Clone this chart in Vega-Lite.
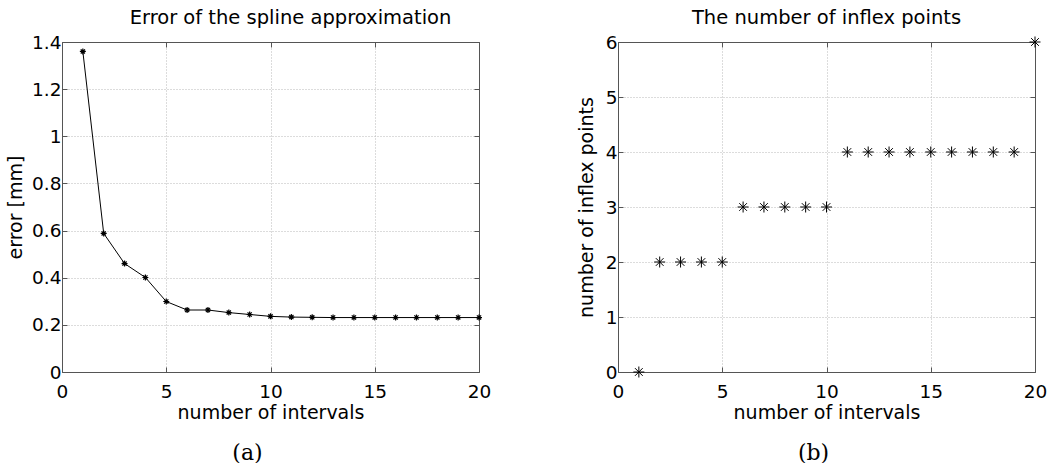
{
  "$schema": "https://vega.github.io/schema/vega-lite/v6.json",
  "background": "white",
  "padding": {"left": 6, "top": 7, "right": 2, "bottom": 0},
  "bounds": "flush",
  "spacing": 139,
  "datasets": {
    "err": [
      {"n": 1, "err": 1.36}, {"n": 2, "err": 0.588}, {"n": 3, "err": 0.46}, {"n": 4, "err": 0.401},
      {"n": 5, "err": 0.299}, {"n": 6, "err": 0.263}, {"n": 7, "err": 0.263}, {"n": 8, "err": 0.252},
      {"n": 9, "err": 0.244}, {"n": 10, "err": 0.236}, {"n": 11, "err": 0.233}, {"n": 12, "err": 0.232},
      {"n": 13, "err": 0.231}, {"n": 14, "err": 0.231}, {"n": 15, "err": 0.231}, {"n": 16, "err": 0.231},
      {"n": 17, "err": 0.231}, {"n": 18, "err": 0.231}, {"n": 19, "err": 0.231}, {"n": 20, "err": 0.231}
    ],
    "infl": [
      {"n": 1, "k": 0}, {"n": 2, "k": 2}, {"n": 3, "k": 2}, {"n": 4, "k": 2}, {"n": 5, "k": 2},
      {"n": 6, "k": 3}, {"n": 7, "k": 3}, {"n": 8, "k": 3}, {"n": 9, "k": 3}, {"n": 10, "k": 3},
      {"n": 11, "k": 4}, {"n": 12, "k": 4}, {"n": 13, "k": 4}, {"n": 14, "k": 4}, {"n": 15, "k": 4},
      {"n": 16, "k": 4}, {"n": 17, "k": 4}, {"n": 18, "k": 4}, {"n": 19, "k": 4}, {"n": 20, "k": 6}
    ]
  },
  "config": {
    "font": "DejaVu Sans",
    "view": {"stroke": null},
    "axis": {
      "labelFont": "DejaVu Sans", "labelFontSize": 18.5, "labelColor": "black",
      "titleFont": "DejaVu Sans", "titleFontSize": 19, "titleFontWeight": "normal", "titleColor": "black",
      "domainColor": "#555", "tickColor": "#555", "domainWidth": 1, "tickWidth": 1,
      "gridColor": "#b8b8b8", "gridDash": [1, 2], "gridOpacity": 1, "gridWidth": 1,
      "labelFlush": false, "labelOverlap": false
    },
    "title": {"font": "DejaVu Sans", "fontSize": 19.5, "fontWeight": "normal", "color": "black", "offset": 5}
  },
  "hconcat": [
    {
      "width": 417, "height": 330,
      "title": {"text": "Error of the spline approximation", "dx": 20},
      "data": {"name": "err"},
      "layer": [
        {
          "mark": {"type": "line", "color": "black", "strokeWidth": 1},
          "encoding": {
            "x": {"field": "n", "type": "quantitative", "scale": {"domain": [0, 20], "nice": false},
                  "axis": {"values": [0, 5, 10, 15, 20], "title": "number of intervals", "grid": true, "ticks": false, "labelPadding": 10, "titlePadding": 3}},
            "y": {"field": "err", "type": "quantitative", "scale": {"domain": [0, 1.4], "nice": false},
                  "axis": {"values": [0, 0.2, 0.4, 0.6, 0.8, 1, 1.2, 1.4], "format": "~g", "title": "error [mm]", "grid": true, "ticks": false, "labelPadding": 1, "titlePadding": 6}}
          }
        },
        {
          "mark": {"type": "point", "shape": "M-1,0L1,0M0,-1L0,1M-0.7,-0.7L0.7,0.7M-0.7,0.7L0.7,-0.7", "filled": false, "stroke": "black", "strokeWidth": 1.2, "size": 36, "opacity": 1},
          "encoding": {
            "x": {"field": "n", "type": "quantitative", "axis": null},
            "y": {"field": "err", "type": "quantitative", "axis": null}
          }
        },
        {
          "mark": {"type": "point", "opacity": 0},
          "encoding": {
            "x": {"field": "n", "type": "quantitative", "axis": {"orient": "top", "values": [0, 5, 10, 15, 20], "labels": false, "tickSize": -5, "title": null, "grid": false}},
            "y": {"field": "err", "type": "quantitative", "axis": {"orient": "right", "values": [0, 0.2, 0.4, 0.6, 0.8, 1, 1.2, 1.4], "labels": false, "tickSize": -5, "title": null, "grid": false}}
          }
        },
        {
          "mark": {"type": "point", "opacity": 0},
          "encoding": {
            "x": {"field": "n", "type": "quantitative", "axis": {"orient": "bottom", "values": [0, 5, 10, 15, 20], "labels": false, "tickSize": -5, "domain": false, "grid": false, "title": "(a)", "titleFont": "DejaVu Serif", "titleFontSize": 22, "titlePadding": 70, "titleX": 185, "titleAlign": "center"}},
            "y": {"field": "err", "type": "quantitative", "axis": {"orient": "left", "values": [0, 0.2, 0.4, 0.6, 0.8, 1, 1.2, 1.4], "labels": false, "tickSize": -5, "domain": false, "title": null, "grid": false}}
          }
        }
      ],
      "resolve": {"axis": {"x": "independent", "y": "independent"}}
    },
    {
      "width": 417, "height": 330,
      "title": {"text": "The number of inflex points"},
      "data": {"name": "infl"},
      "layer": [
        {
          "mark": {"type": "point", "shape": "M-1,0L1,0M0,-1L0,1M-0.7,-0.7L0.7,0.7M-0.7,0.7L0.7,-0.7", "filled": false, "stroke": "black", "strokeWidth": 1, "size": 121, "opacity": 1},
          "encoding": {
            "x": {"field": "n", "type": "quantitative", "scale": {"domain": [0, 20], "nice": false},
                  "axis": {"values": [0, 5, 10, 15, 20], "title": "number of intervals", "grid": true, "ticks": false, "labelPadding": 10, "titlePadding": 3}},
            "y": {"field": "k", "type": "quantitative", "scale": {"domain": [0, 6], "nice": false},
                  "axis": {"values": [0, 1, 2, 3, 4, 5, 6], "title": "number of inflex points", "grid": true, "ticks": false, "labelPadding": 1, "titlePadding": 9}}
          }
        },
        {
          "mark": {"type": "point", "opacity": 0},
          "encoding": {
            "x": {"field": "n", "type": "quantitative", "axis": {"orient": "top", "values": [0, 5, 10, 15, 20], "labels": false, "tickSize": -5, "title": null, "grid": false}},
            "y": {"field": "k", "type": "quantitative", "axis": {"orient": "right", "values": [0, 1, 2, 3, 4, 5, 6], "labels": false, "tickSize": -5, "title": null, "grid": false}}
          }
        },
        {
          "mark": {"type": "point", "opacity": 0},
          "encoding": {
            "x": {"field": "n", "type": "quantitative", "axis": {"orient": "bottom", "values": [0, 5, 10, 15, 20], "labels": false, "tickSize": -5, "domain": false, "grid": false, "title": "(b)", "titleFont": "DejaVu Serif", "titleFontSize": 22, "titlePadding": 70, "titleX": 195, "titleAlign": "center"}},
            "y": {"field": "k", "type": "quantitative", "axis": {"orient": "left", "values": [0, 1, 2, 3, 4, 5, 6], "labels": false, "tickSize": -5, "domain": false, "title": null, "grid": false}}
          }
        }
      ],
      "resolve": {"axis": {"x": "independent", "y": "independent"}}
    }
  ]
}
